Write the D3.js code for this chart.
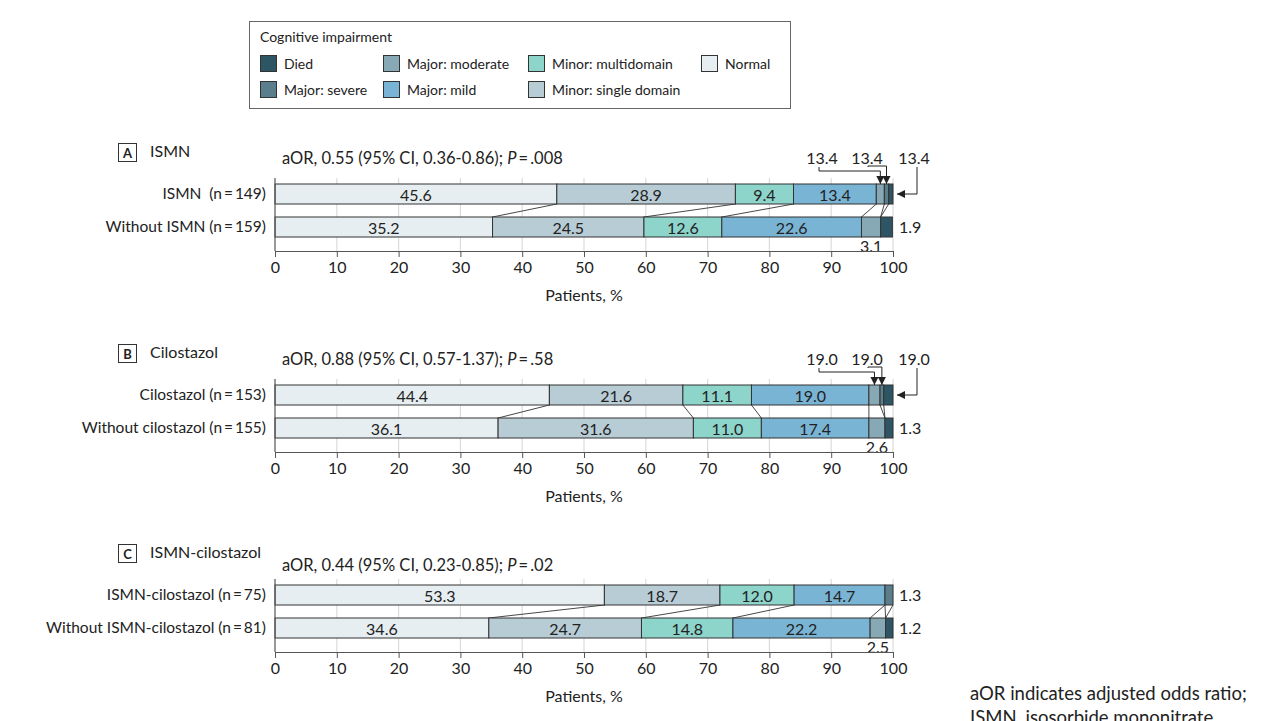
<!DOCTYPE html>
<html>
<head>
<meta charset="utf-8">
<script src="https://cdn.jsdelivr.net/npm/d3@7"></script>
<style>
  body { margin: 0; background: #fff; }
  svg text { font-family: Lato, "Open Sans", sans-serif; fill: #222; }
</style>
</head>
<body>
<svg id="chart" width="1265" height="721"></svg>
<script>
// categories, left to right in each bar
const categories = ["Normal", "Minor: single domain", "Minor: multidomain", "Major: mild", "Major: moderate", "Major: severe", "Died"];
const catColors = ["#e6eef1", "#b8ccd5", "#8dd4cb", "#7ab4d5", "#87a8b5", "#5a7e8c", "#2e5563"];

// legend layout order (columns)
const legendOrder = ["Died", "Major: severe", "Major: moderate", "Major: mild", "Minor: multidomain", "Minor: single domain", "Normal"];

const panelLetters = ["A", "B", "C"];
const panelTitles = ["ISMN", "Cilostazol", "ISMN-cilostazol"];
const aorText = ["aOR, 0.55 (95% CI, 0.36-0.86); ", "aOR, 0.88 (95% CI, 0.57-1.37); ", "aOR, 0.44 (95% CI, 0.23-0.85); "];
const pText = [".008", ".58", ".02"];

const rowLabels = [
  ["ISMN\u00a0\u00a0(n\u2009=\u2009149)", "Without ISMN (n\u2009=\u2009159)"],
  ["Cilostazol (n\u2009=\u2009153)", "Without cilostazol (n\u2009=\u2009155)"],
  ["ISMN-cilostazol (n\u2009=\u200975)", "Without ISMN-cilostazol (n\u2009=\u200981)"]
];

// percentages per category (same order as categories)
const ismn = [45.6, 28.9, 9.4, 13.4, 1.3, 0.7, 0.7];
const withoutIsmn = [35.2, 24.5, 12.6, 22.6, 3.1, 0.0, 1.9];
const cilostazol = [44.4, 21.6, 11.1, 19.0, 1.8, 0.6, 1.5];
const withoutCilostazol = [36.1, 31.6, 11.0, 17.4, 2.6, 0.0, 1.3];
const combo = [53.3, 18.7, 12.0, 14.7, 0.0, 1.3, 0.0];
const withoutCombo = [34.6, 24.7, 14.8, 22.2, 2.5, 0.0, 1.2];
const panelValues = [[ismn, withoutIsmn], [cilostazol, withoutCilostazol], [combo, withoutCombo]];

// callouts on the small top-bar segments (as printed in the source)
const callouts = [["13.4", "13.4", "13.4"], ["19.0", "19.0", "19.0"], null];
// small labels: [row, category index, text, where]
const smallLabels = [
  [[1, 6, "1.9", "right"], [1, 4, "3.1", "below"]],
  [[1, 6, "1.3", "right"], [1, 4, "2.6", "below"]],
  [[0, 5, "1.3", "right"], [1, 6, "1.2", "right"], [1, 4, "2.5", "below"]]
];

const xTicks = d3.range(0, 101, 10);

var svg = d3.select("#chart");
var color = d3.scaleOrdinal().domain(categories).range(catColors);
var x = d3.scaleLinear().domain([0, 100]).range([275, 893]);

svg.append("defs").append("marker")
  .attr("id", "arrow")
  .attr("viewBox", "0 0 10 10")
  .attr("refX", 10).attr("refY", 5)
  .attr("markerWidth", 8).attr("markerHeight", 8)
  .attr("markerUnits", "userSpaceOnUse")
  .attr("orient", "auto")
  .append("path").attr("d", "M0,0 L10,5 L0,10 z").attr("fill", "#222");

// legend
var lg = svg.append("g");
lg.append("rect").attr("x", 249.5).attr("y", 21.5).attr("width", 541).attr("height", 87)
  .attr("fill", "#fff").attr("stroke", "#666");
lg.append("text").attr("x", 260).attr("y", 37).attr("dy", "0.35em").style("font-size", "14px").text("Cognitive impairment");
var colX = [260, 383, 528, 701];
legendOrder.forEach((c, i) => {
  var cx = colX[Math.floor(i / 2)];
  var cy = 64 + (i % 2) * 26;
  lg.append("rect").attr("x", cx + 0.5).attr("y", cy - 8.5).attr("width", 16).attr("height", 16)
    .attr("fill", color(c)).attr("stroke", "#333");
  lg.append("text").attr("x", cx + 24).attr("y", cy).attr("dy", "0.35em").style("font-size", "14px").text(c);
});

// panels
panelValues.forEach((rows, p) => {
  var oy = [0, 201, 401][p];
  var g = svg.append("g").attr("transform", `translate(0,${oy})`);
  var barTop = [184, 217];
  var barH = 20;
  var axisY = 251;

  // header
  g.append("rect").attr("x", 118.5).attr("y", 143.5).attr("width", 18).attr("height", 18)
    .attr("fill", "#fff").attr("stroke", "#333");
  g.append("text").attr("x", 127.5).attr("y", 153).attr("dy", "0.35em").attr("text-anchor", "middle")
    .style("font-size", "13px").style("font-weight", "bold").text(panelLetters[p]);
  g.append("text").attr("x", 150).attr("y", 151).attr("dy", "0.35em").style("font-size", "16px").text(panelTitles[p]);

  var aor = g.append("text").attr("x", 282).attr("y", p === 2 ? 164 : 158).attr("dy", "0.35em").style("font-size", "16.5px");
  aor.append("tspan").text(aorText[p]);
  aor.append("tspan").style("font-style", "italic").text("P");
  aor.append("tspan").text("\u2009=\u2009" + pText[p]);

  // grid
  g.selectAll(".grid").data(xTicks.slice(1)).join("line")
    .attr("x1", d => x(d)).attr("x2", d => x(d))
    .attr("y1", 178).attr("y2", axisY)
    .attr("stroke", "#dcdcdc").attr("stroke-width", 1.2);

  // connectors between bars
  var cumTop = d3.cumsum(rows[0]);
  var cumBot = d3.cumsum(rows[1]);
  d3.range(0, 6).forEach(i => {
    g.append("line")
      .attr("x1", x(cumTop[i])).attr("y1", barTop[0] + barH)
      .attr("x2", x(cumBot[i])).attr("y2", barTop[1])
      .attr("stroke", "#333").attr("stroke-width", 0.9);
  });

  // bars
  rows.forEach((vals, r) => {
    var cum = [0, ...d3.cumsum(vals)];
    var segs = vals.map((v, i) => ({ v: v, x0: cum[i], x1: cum[i + 1], c: categories[i] })).filter(s => s.v > 0);
    g.selectAll(null).data(segs).join("rect")
      .attr("x", d => x(d.x0)).attr("width", d => x(d.x1) - x(d.x0))
      .attr("y", barTop[r]).attr("height", barH)
      .attr("fill", d => color(d.c)).attr("stroke", "#333").attr("stroke-width", 1);
    g.selectAll(null).data(segs.filter(s => s.v >= 5)).join("text")
      .attr("x", d => x((d.x0 + d.x1) / 2)).attr("y", barTop[r] + barH / 2 + 1)
      .attr("dy", "0.35em").attr("text-anchor", "middle").style("font-size", "16px")
      .text(d => d.v.toFixed(1));
    g.append("text").attr("x", 266).attr("y", barTop[r] + barH / 2)
      .attr("dy", "0.35em").attr("text-anchor", "end").style("font-size", "15.5px").text(rowLabels[p][r]);
  });

  // small labels
  smallLabels[p].forEach(s => {
    var vals = rows[s[0]];
    var cum = [0, ...d3.cumsum(vals)];
    if (s[3] === "right") {
      g.append("text").attr("x", x(100) + 6).attr("y", barTop[s[0]] + barH / 2)
        .attr("dy", "0.35em").style("font-size", "16px").text(s[2]);
    } else {
      g.append("text").attr("x", x((cum[s[1]] + cum[s[1] + 1]) / 2)).attr("y", barTop[s[0]] + barH + 9)
        .attr("dy", "0.35em").attr("text-anchor", "middle").style("font-size", "16px").text(s[2]);
    }
  });

  // callouts to tiny segments of the top bar
  if (callouts[p]) {
    var cum0 = [0, ...d3.cumsum(rows[0])];
    var mid = i => x((cum0[i] + cum0[i + 1]) / 2);
    var ly = 158;
    var lx = [x(100) - 71, x(100) - 26, x(100) + 21];
    callouts[p].forEach((t, i) => {
      g.append("text").attr("x", lx[i]).attr("y", ly).attr("dy", "0.35em")
        .attr("text-anchor", "middle").style("font-size", "16px").text(t);
    });
    var path1 = `M${lx[0] - 3},${ly + 9} V${171} H${mid(4)} V${barTop[0]}`;
    var path2 = `M${lx[1] + 1},${ly + 9} V${166} H${mid(5)} V${barTop[0]}`;
    var path3 = `M${lx[2] + 3},${ly + 9} V${barTop[0] + barH / 2} H${x(100) + 4}`;
    [path1, path2, path3].forEach(d => {
      g.append("path").attr("d", d).attr("fill", "none").attr("stroke", "#222").attr("stroke-width", 1)
        .attr("marker-end", "url(#arrow)");
    });
  }

  // axes
  g.append("line").attr("x1", x(0)).attr("x2", x(0)).attr("y1", 178).attr("y2", axisY)
    .attr("stroke", "#555").attr("stroke-width", 1.2);
  var ax = g.append("g").attr("transform", `translate(0,${axisY})`)
    .call(d3.axisBottom(x).tickValues(xTicks).tickSize(6).tickSizeOuter(0).tickPadding(5));
  ax.select(".domain").attr("stroke", "#555").attr("stroke-width", 1.2);
  ax.selectAll(".tick line").attr("stroke", "#555");
  ax.selectAll(".tick text").style("font-size", "16px").attr("fill", "#222")
    .style("font-family", "Lato, sans-serif");
  g.append("text").attr("x", x(50)).attr("y", 295).attr("dy", "0.35em").attr("text-anchor", "middle")
    .style("font-size", "16px").text("Patients, %");
});

// footnote
svg.append("text").attr("x", 970).attr("y", 694).attr("dy", "0.35em").style("font-size", "18.5px")
  .text("aOR indicates adjusted odds ratio;");
svg.append("text").attr("x", 970).attr("y", 718).attr("dy", "0.35em").style("font-size", "18.5px")
  .text("ISMN, isosorbide mononitrate.");
</script>
</body>
</html>
